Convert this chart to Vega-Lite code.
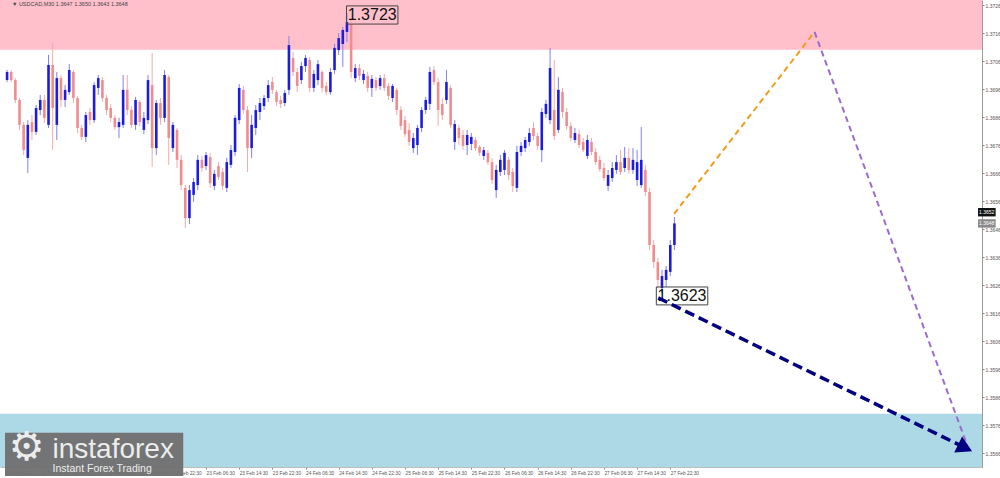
{
  "$schema": "https://vega.github.io/schema/vega-lite/v6.json",
  "width": 982,
  "height": 467,
  "autosize": "none",
  "padding": {"left": 0, "top": 0, "right": 18, "bottom": 11},
  "background": "white",
  "config": {"font": "Liberation Sans", "view": {"stroke": null}, "axis": {"labelOverlap": false, "labelBound": false}},
  "datasets": {
    "candles": [
      {"t":"2024-02-21T06:30","o":1.36992,"h":1.37028,"l":1.36985,"c":1.37021},
      {"t":"2024-02-21T07:30","o":1.37021,"h":1.37028,"l":1.36985,"c":1.36992},
      {"t":"2024-02-21T08:30","o":1.36992,"h":1.36999,"l":1.36910,"c":1.36921},
      {"t":"2024-02-21T09:30","o":1.36921,"h":1.36928,"l":1.36814,"c":1.36832},
      {"t":"2024-02-21T10:30","o":1.36832,"h":1.36842,"l":1.36724,"c":1.36742},
      {"t":"2024-02-21T11:30","o":1.36714,"h":1.36849,"l":1.36660,"c":1.36832},
      {"t":"2024-02-21T12:30","o":1.36842,"h":1.36867,"l":1.36778,"c":1.36807},
      {"t":"2024-02-21T13:30","o":1.36807,"h":1.36903,"l":1.36796,"c":1.36892},
      {"t":"2024-02-21T14:30","o":1.36885,"h":1.36939,"l":1.36867,"c":1.36921},
      {"t":"2024-02-21T15:30","o":1.36921,"h":1.36939,"l":1.36839,"c":1.36857},
      {"t":"2024-02-21T16:30","o":1.36832,"h":1.37082,"l":1.36821,"c":1.37046},
      {"t":"2024-02-21T17:30","o":1.37046,"h":1.37124,"l":1.36742,"c":1.36892},
      {"t":"2024-02-21T18:30","o":1.36832,"h":1.37021,"l":1.36778,"c":1.36999},
      {"t":"2024-02-21T19:30","o":1.36999,"h":1.37010,"l":1.36896,"c":1.36921},
      {"t":"2024-02-21T20:30","o":1.36921,"h":1.36974,"l":1.36896,"c":1.36957},
      {"t":"2024-02-21T21:30","o":1.36949,"h":1.37049,"l":1.36939,"c":1.37028},
      {"t":"2024-02-21T22:30","o":1.37021,"h":1.37028,"l":1.36910,"c":1.36928},
      {"t":"2024-02-21T23:30","o":1.36928,"h":1.36935,"l":1.36803,"c":1.36821},
      {"t":"2024-02-22T00:30","o":1.36821,"h":1.36832,"l":1.36778,"c":1.36789},
      {"t":"2024-02-22T01:30","o":1.36789,"h":1.36878,"l":1.36771,"c":1.36867},
      {"t":"2024-02-22T02:30","o":1.36878,"h":1.36892,"l":1.36832,"c":1.36849},
      {"t":"2024-02-22T03:30","o":1.36849,"h":1.36985,"l":1.36839,"c":1.36974},
      {"t":"2024-02-22T04:30","o":1.36964,"h":1.37010,"l":1.36939,"c":1.36999},
      {"t":"2024-02-22T05:30","o":1.36992,"h":1.37003,"l":1.36914,"c":1.36928},
      {"t":"2024-02-22T06:30","o":1.36928,"h":1.36939,"l":1.36867,"c":1.36885},
      {"t":"2024-02-22T07:30","o":1.36892,"h":1.36907,"l":1.36842,"c":1.36857},
      {"t":"2024-02-22T08:30","o":1.36857,"h":1.36867,"l":1.36814,"c":1.36824},
      {"t":"2024-02-22T09:30","o":1.36824,"h":1.36857,"l":1.36785,"c":1.36842},
      {"t":"2024-02-22T10:30","o":1.36832,"h":1.37010,"l":1.36821,"c":1.36957},
      {"t":"2024-02-22T11:30","o":1.36957,"h":1.37010,"l":1.36867,"c":1.36885},
      {"t":"2024-02-22T12:30","o":1.36885,"h":1.36899,"l":1.36821,"c":1.36832},
      {"t":"2024-02-22T13:30","o":1.36832,"h":1.36932,"l":1.36814,"c":1.36921},
      {"t":"2024-02-22T14:30","o":1.36914,"h":1.36921,"l":1.36828,"c":1.36842},
      {"t":"2024-02-22T15:30","o":1.36814,"h":1.36878,"l":1.36799,"c":1.36857},
      {"t":"2024-02-22T16:30","o":1.36849,"h":1.37010,"l":1.36835,"c":1.36992},
      {"t":"2024-02-22T17:30","o":1.36974,"h":1.37089,"l":1.36682,"c":1.36749},
      {"t":"2024-02-22T18:30","o":1.36749,"h":1.36921,"l":1.36724,"c":1.36910},
      {"t":"2024-02-22T19:30","o":1.36910,"h":1.36928,"l":1.36832,"c":1.36857},
      {"t":"2024-02-22T20:30","o":1.36857,"h":1.37028,"l":1.36842,"c":1.37010},
      {"t":"2024-02-22T21:30","o":1.37003,"h":1.37010,"l":1.36689,"c":1.36785},
      {"t":"2024-02-22T22:30","o":1.36749,"h":1.36842,"l":1.36735,"c":1.36832},
      {"t":"2024-02-22T23:30","o":1.36814,"h":1.36821,"l":1.36678,"c":1.36707},
      {"t":"2024-02-23T00:30","o":1.36707,"h":1.36724,"l":1.36599,"c":1.36617},
      {"t":"2024-02-23T01:30","o":1.36607,"h":1.36617,"l":1.36464,"c":1.36499},
      {"t":"2024-02-23T02:30","o":1.36499,"h":1.36617,"l":1.36478,"c":1.36599},
      {"t":"2024-02-23T03:30","o":1.36582,"h":1.36642,"l":1.36557,"c":1.36628},
      {"t":"2024-02-23T04:30","o":1.36617,"h":1.36724,"l":1.36599,"c":1.36707},
      {"t":"2024-02-23T05:30","o":1.36707,"h":1.36721,"l":1.36664,"c":1.36678},
      {"t":"2024-02-23T06:30","o":1.36685,"h":1.36735,"l":1.36671,"c":1.36724},
      {"t":"2024-02-23T07:30","o":1.36717,"h":1.36732,"l":1.36607,"c":1.36624},
      {"t":"2024-02-23T08:30","o":1.36614,"h":1.36671,"l":1.36599,"c":1.36657},
      {"t":"2024-02-23T09:30","o":1.36685,"h":1.36699,"l":1.36635,"c":1.36646},
      {"t":"2024-02-23T10:30","o":1.36664,"h":1.36678,"l":1.36599,"c":1.36614},
      {"t":"2024-02-23T11:30","o":1.36607,"h":1.36714,"l":1.36592,"c":1.36699},
      {"t":"2024-02-23T12:30","o":1.36689,"h":1.36760,"l":1.36678,"c":1.36742},
      {"t":"2024-02-23T13:30","o":1.36735,"h":1.36867,"l":1.36721,"c":1.36857},
      {"t":"2024-02-23T14:30","o":1.36849,"h":1.36978,"l":1.36835,"c":1.36964},
      {"t":"2024-02-23T15:30","o":1.36957,"h":1.36971,"l":1.36871,"c":1.36885},
      {"t":"2024-02-23T16:30","o":1.36885,"h":1.36899,"l":1.36664,"c":1.36749},
      {"t":"2024-02-23T17:30","o":1.36749,"h":1.36867,"l":1.36714,"c":1.36832},
      {"t":"2024-02-23T18:30","o":1.36821,"h":1.36903,"l":1.36796,"c":1.36885},
      {"t":"2024-02-23T19:30","o":1.36878,"h":1.36928,"l":1.36849,"c":1.36910},
      {"t":"2024-02-23T20:30","o":1.36899,"h":1.36939,"l":1.36885,"c":1.36928},
      {"t":"2024-02-23T21:30","o":1.36928,"h":1.36992,"l":1.36914,"c":1.36974},
      {"t":"2024-02-23T22:30","o":1.36985,"h":1.37003,"l":1.36942,"c":1.36957},
      {"t":"2024-02-23T23:30","o":1.36949,"h":1.36957,"l":1.36899,"c":1.36914},
      {"t":"2024-02-24T00:30","o":1.36921,"h":1.36935,"l":1.36892,"c":1.36907},
      {"t":"2024-02-24T01:30","o":1.36910,"h":1.36957,"l":1.36899,"c":1.36946},
      {"t":"2024-02-24T02:30","o":1.36957,"h":1.37149,"l":1.36939,"c":1.37117},
      {"t":"2024-02-24T03:30","o":1.37071,"h":1.37092,"l":1.37007,"c":1.37021},
      {"t":"2024-02-24T04:30","o":1.37021,"h":1.37035,"l":1.36949,"c":1.36971},
      {"t":"2024-02-24T05:30","o":1.36992,"h":1.37057,"l":1.36978,"c":1.37042},
      {"t":"2024-02-24T06:30","o":1.37042,"h":1.37082,"l":1.37021,"c":1.37071},
      {"t":"2024-02-24T07:30","o":1.37064,"h":1.37074,"l":1.36949,"c":1.36964},
      {"t":"2024-02-24T08:30","o":1.36964,"h":1.37028,"l":1.36949,"c":1.37014},
      {"t":"2024-02-24T09:30","o":1.36992,"h":1.37064,"l":1.36974,"c":1.37049},
      {"t":"2024-02-24T10:30","o":1.37021,"h":1.37028,"l":1.36949,"c":1.36964},
      {"t":"2024-02-24T11:30","o":1.36971,"h":1.36985,"l":1.36939,"c":1.36949},
      {"t":"2024-02-24T12:30","o":1.36949,"h":1.37035,"l":1.36939,"c":1.37021},
      {"t":"2024-02-24T13:30","o":1.37028,"h":1.37121,"l":1.37014,"c":1.37107},
      {"t":"2024-02-24T14:30","o":1.37099,"h":1.37160,"l":1.37082,"c":1.37142},
      {"t":"2024-02-24T15:30","o":1.37121,"h":1.37182,"l":1.37039,"c":1.37171},
      {"t":"2024-02-24T16:30","o":1.37164,"h":1.37230,"l":1.37128,"c":1.37199},
      {"t":"2024-02-24T17:30","o":1.37192,"h":1.37207,"l":1.36999,"c":1.37021},
      {"t":"2024-02-24T18:30","o":1.36999,"h":1.37049,"l":1.36985,"c":1.37035},
      {"t":"2024-02-24T19:30","o":1.37035,"h":1.37049,"l":1.36992,"c":1.37007},
      {"t":"2024-02-24T20:30","o":1.36992,"h":1.37028,"l":1.36978,"c":1.37014},
      {"t":"2024-02-24T21:30","o":1.37007,"h":1.37021,"l":1.36949,"c":1.36964},
      {"t":"2024-02-24T22:30","o":1.36964,"h":1.37010,"l":1.36932,"c":1.36996},
      {"t":"2024-02-24T23:30","o":1.36992,"h":1.37003,"l":1.36953,"c":1.36964},
      {"t":"2024-02-25T00:30","o":1.36971,"h":1.37010,"l":1.36957,"c":1.36999},
      {"t":"2024-02-25T01:30","o":1.36999,"h":1.37014,"l":1.36953,"c":1.36964},
      {"t":"2024-02-25T02:30","o":1.36971,"h":1.36982,"l":1.36921,"c":1.36935},
      {"t":"2024-02-25T03:30","o":1.36928,"h":1.36978,"l":1.36914,"c":1.36971},
      {"t":"2024-02-25T04:30","o":1.36957,"h":1.36964,"l":1.36867,"c":1.36885},
      {"t":"2024-02-25T05:30","o":1.36885,"h":1.36899,"l":1.36814,"c":1.36828},
      {"t":"2024-02-25T06:30","o":1.36849,"h":1.36864,"l":1.36789,"c":1.36799},
      {"t":"2024-02-25T07:30","o":1.36814,"h":1.36839,"l":1.36757,"c":1.36771},
      {"t":"2024-02-25T08:30","o":1.36749,"h":1.36803,"l":1.36732,"c":1.36785},
      {"t":"2024-02-25T09:30","o":1.36760,"h":1.36832,"l":1.36724,"c":1.36821},
      {"t":"2024-02-25T10:30","o":1.36821,"h":1.36896,"l":1.36807,"c":1.36885},
      {"t":"2024-02-25T11:30","o":1.36885,"h":1.36932,"l":1.36871,"c":1.36921},
      {"t":"2024-02-25T12:30","o":1.36907,"h":1.37039,"l":1.36885,"c":1.37021},
      {"t":"2024-02-25T13:30","o":1.37028,"h":1.37042,"l":1.36974,"c":1.36985},
      {"t":"2024-02-25T14:30","o":1.36985,"h":1.36999,"l":1.36828,"c":1.36885},
      {"t":"2024-02-25T15:30","o":1.36907,"h":1.36928,"l":1.36849,"c":1.36867},
      {"t":"2024-02-25T16:30","o":1.36921,"h":1.37028,"l":1.36907,"c":1.36985},
      {"t":"2024-02-25T17:30","o":1.36964,"h":1.36974,"l":1.36821,"c":1.36832},
      {"t":"2024-02-25T18:30","o":1.36771,"h":1.36849,"l":1.36742,"c":1.36835},
      {"t":"2024-02-25T19:30","o":1.36821,"h":1.36832,"l":1.36760,"c":1.36785},
      {"t":"2024-02-25T20:30","o":1.36796,"h":1.36814,"l":1.36742,"c":1.36757},
      {"t":"2024-02-25T21:30","o":1.36760,"h":1.36814,"l":1.36724,"c":1.36796},
      {"t":"2024-02-25T22:30","o":1.36764,"h":1.36803,"l":1.36742,"c":1.36789},
      {"t":"2024-02-25T23:30","o":1.36778,"h":1.36789,"l":1.36739,"c":1.36749},
      {"t":"2024-02-26T00:30","o":1.36753,"h":1.36760,"l":1.36721,"c":1.36732},
      {"t":"2024-02-26T01:30","o":1.36721,"h":1.36753,"l":1.36707,"c":1.36742},
      {"t":"2024-02-26T02:30","o":1.36732,"h":1.36742,"l":1.36689,"c":1.36699},
      {"t":"2024-02-26T03:30","o":1.36699,"h":1.36714,"l":1.36621,"c":1.36635},
      {"t":"2024-02-26T04:30","o":1.36599,"h":1.36689,"l":1.36571,"c":1.36671},
      {"t":"2024-02-26T05:30","o":1.36664,"h":1.36724,"l":1.36649,"c":1.36707},
      {"t":"2024-02-26T06:30","o":1.36671,"h":1.36742,"l":1.36653,"c":1.36732},
      {"t":"2024-02-26T07:30","o":1.36707,"h":1.36717,"l":1.36635,"c":1.36653},
      {"t":"2024-02-26T08:30","o":1.36664,"h":1.36678,"l":1.36592,"c":1.36614},
      {"t":"2024-02-26T09:30","o":1.36607,"h":1.36757,"l":1.36592,"c":1.36735},
      {"t":"2024-02-26T10:30","o":1.36735,"h":1.36771,"l":1.36721,"c":1.36757},
      {"t":"2024-02-26T11:30","o":1.36749,"h":1.36789,"l":1.36735,"c":1.36778},
      {"t":"2024-02-26T12:30","o":1.36771,"h":1.36821,"l":1.36757,"c":1.36803},
      {"t":"2024-02-26T13:30","o":1.36821,"h":1.36842,"l":1.36778,"c":1.36792},
      {"t":"2024-02-26T14:30","o":1.36792,"h":1.36803,"l":1.36742,"c":1.36757},
      {"t":"2024-02-26T15:30","o":1.36742,"h":1.36892,"l":1.36699,"c":1.36878},
      {"t":"2024-02-26T16:30","o":1.36871,"h":1.36921,"l":1.36857,"c":1.36907},
      {"t":"2024-02-26T17:30","o":1.36849,"h":1.37107,"l":1.36835,"c":1.37035},
      {"t":"2024-02-26T18:30","o":1.36885,"h":1.37064,"l":1.36778,"c":1.36792},
      {"t":"2024-02-26T19:30","o":1.36814,"h":1.37003,"l":1.36803,"c":1.36957},
      {"t":"2024-02-26T20:30","o":1.36949,"h":1.36964,"l":1.36857,"c":1.36878},
      {"t":"2024-02-26T21:30","o":1.36878,"h":1.36892,"l":1.36814,"c":1.36828},
      {"t":"2024-02-26T22:30","o":1.36828,"h":1.36842,"l":1.36774,"c":1.36785},
      {"t":"2024-02-26T23:30","o":1.36778,"h":1.36821,"l":1.36767,"c":1.36803},
      {"t":"2024-02-27T00:30","o":1.36799,"h":1.36814,"l":1.36749,"c":1.36760},
      {"t":"2024-02-27T01:30","o":1.36771,"h":1.36785,"l":1.36735,"c":1.36742},
      {"t":"2024-02-27T02:30","o":1.36721,"h":1.36796,"l":1.36710,"c":1.36778},
      {"t":"2024-02-27T03:30","o":1.36771,"h":1.36785,"l":1.36724,"c":1.36735},
      {"t":"2024-02-27T04:30","o":1.36735,"h":1.36749,"l":1.36689,"c":1.36699},
      {"t":"2024-02-27T05:30","o":1.36707,"h":1.36721,"l":1.36664,"c":1.36674},
      {"t":"2024-02-27T06:30","o":1.36678,"h":1.36696,"l":1.36632,"c":1.36642},
      {"t":"2024-02-27T07:30","o":1.36614,"h":1.36671,"l":1.36596,"c":1.36653},
      {"t":"2024-02-27T08:30","o":1.36642,"h":1.36699,"l":1.36628,"c":1.36678},
      {"t":"2024-02-27T09:30","o":1.36671,"h":1.36724,"l":1.36657,"c":1.36699},
      {"t":"2024-02-27T10:30","o":1.36699,"h":1.36742,"l":1.36653,"c":1.36664},
      {"t":"2024-02-27T11:30","o":1.36678,"h":1.36753,"l":1.36664,"c":1.36714},
      {"t":"2024-02-27T12:30","o":1.36714,"h":1.36749,"l":1.36657,"c":1.36671},
      {"t":"2024-02-27T13:30","o":1.36671,"h":1.36749,"l":1.36657,"c":1.36707},
      {"t":"2024-02-27T14:30","o":1.36635,"h":1.36742,"l":1.36614,"c":1.36699},
      {"t":"2024-02-27T15:30","o":1.36617,"h":1.36824,"l":1.36607,"c":1.36707},
      {"t":"2024-02-27T16:30","o":1.36671,"h":1.36689,"l":1.36578,"c":1.36592},
      {"t":"2024-02-27T17:30","o":1.36592,"h":1.36607,"l":1.36385,"c":1.36403},
      {"t":"2024-02-27T18:30","o":1.36403,"h":1.36421,"l":1.36321,"c":1.36342},
      {"t":"2024-02-27T19:30","o":1.36342,"h":1.36357,"l":1.36249,"c":1.36278},
      {"t":"2024-02-27T20:30","o":1.36249,"h":1.36314,"l":1.36230,"c":1.36292},
      {"t":"2024-02-27T21:30","o":1.36278,"h":1.36328,"l":1.36253,"c":1.36314},
      {"t":"2024-02-27T22:30","o":1.36307,"h":1.36421,"l":1.36292,"c":1.36403},
      {"t":"2024-02-27T23:30","o":1.36403,"h":1.36503,"l":1.36385,"c":1.36480}
    ],
    "zones": [
      {"zone": "resistance", "p1": 1.3710, "p2": 1.37278},
      {"zone": "support", "p1": 1.35610, "p2": 1.3580}
    ],
    "orange": [
      {"t": "2024-02-27T23:25", "p": 1.36514},
      {"t": "2024-02-29T09:18", "p": 1.37164}
    ],
    "purple": [
      {"t": "2024-02-29T09:18", "p": 1.37164},
      {"t": "2024-03-01T22:06", "p": 1.35689}
    ],
    "navy": [
      {"t": "2024-02-27T19:36", "p": 1.36214},
      {"t": "2024-03-01T21:12", "p": 1.35682}
    ],
    "arrow": [
      {"t": "2024-03-01T21:38", "p": 1.35678}
    ],
    "boxes": [
      {"t1": "2024-02-24T16:23", "t2": "2024-02-25T04:48", "p1": 1.37257, "p2": 1.37192, "tc": "2024-02-24T22:36", "pc": 1.37224, "label": "1.3723"},
      {"t1": "2024-02-27T19:08", "t2": "2024-02-28T07:33", "p1": 1.36253, "p2": 1.36189, "tc": "2024-02-28T01:20", "pc": 1.36221, "label": "1.3623"}
    ],
    "pricetags": [
      {"t1": "2024-03-02T00:45", "t2": "2024-03-02T05:00", "p1": 1.36535, "p2": 1.36505, "tc": "2024-03-02T02:50", "pc": 1.3652, "label": "1.3652", "kind": "bid"},
      {"t1": "2024-03-02T00:45", "t2": "2024-03-02T05:00", "p1": 1.36495, "p2": 1.36465, "tc": "2024-03-02T02:50", "pc": 1.3648, "label": "1.3648", "kind": "last"}
    ],
    "logo": [
      {"t1": "2024-02-21T06:00", "t2": "2024-02-23T01:00", "p1": 1.35732, "p2": 1.35578}
    ],
    "logotext": [
      {"t": "2024-02-21T17:28", "p": 1.35642, "label": "instaforex", "size": 28},
      {"t": "2024-02-21T17:28", "p": 1.35592, "label": "Instant Forex Trading", "size": 10.5}
    ],
    "gear": [
      {"t": "2024-02-21T11:15", "p": 1.35678, "label": "⚙"}
    ],
    "header": [
      {"t": "2024-02-21T07:40", "p": 1.37262, "label": "▼  USDCAD,M30  1.3647 1.3650 1.3643 1.3648"}
    ]
  },
  "layer": [
    {
      "data": {"name": "zones"},
      "mark": {"type": "rect"},
      "encoding": {
        "y": {"field": "p1", "type": "quantitative", "title": null,
              "scale": {"domain": [1.35610, 1.37278], "nice": false, "zero": false},
              "axis": {"orient": "right", "values": [1.3566,1.3576,1.3586,1.3596,1.3606,1.3616,1.3626,1.3636,1.3646,1.3656,1.3666,1.3676,1.3686,1.3696,1.3706,1.3716,1.3726],
                       "tickCount": 30,
                       "format": ".4f", "labelFontSize": 5, "labelColor": "#555", "tickSize": 2, "tickColor": "#888",
                       "domainColor": "#9a9a9a", "labelPadding": 1, "grid": false, "labelOverlap": false, "labelFlush": false, "labelBound": false}},
        "y2": {"field": "p2"},
        "color": {"field": "zone", "type": "nominal", "legend": null,
                  "scale": {"domain": ["resistance", "support"], "range": ["#ffc0cb", "#add8e6"]}}
      }
    },
    {
      "data": {"name": "candles"},
      "mark": {"type": "rule", "strokeWidth": 1},
      "encoding": {
        "x": {"field": "t", "type": "temporal", "title": null,
              "scale": {"domain": [{"year": 2024, "month": 2, "date": 21, "hours": 6, "minutes": 0}, {"year": 2024, "month": 3, "date": 2, "hours": 0, "minutes": 30}], "nice": false},
              "axis": {"values": [
                  {"year":2024,"month":2,"date":21,"hours":6,"minutes":0},
                  {"year":2024,"month":2,"date":21,"hours":14,"minutes":30},
                  {"year":2024,"month":2,"date":21,"hours":22,"minutes":30},
                  {"year":2024,"month":2,"date":22,"hours":6,"minutes":30},
                  {"year":2024,"month":2,"date":22,"hours":14,"minutes":30},
                  {"year":2024,"month":2,"date":22,"hours":22,"minutes":30},
                  {"year":2024,"month":2,"date":23,"hours":6,"minutes":30},
                  {"year":2024,"month":2,"date":23,"hours":14,"minutes":30},
                  {"year":2024,"month":2,"date":23,"hours":22,"minutes":30},
                  {"year":2024,"month":2,"date":24,"hours":6,"minutes":30},
                  {"year":2024,"month":2,"date":24,"hours":14,"minutes":30},
                  {"year":2024,"month":2,"date":24,"hours":22,"minutes":30},
                  {"year":2024,"month":2,"date":25,"hours":6,"minutes":30},
                  {"year":2024,"month":2,"date":25,"hours":14,"minutes":30},
                  {"year":2024,"month":2,"date":25,"hours":22,"minutes":30},
                  {"year":2024,"month":2,"date":26,"hours":6,"minutes":30},
                  {"year":2024,"month":2,"date":26,"hours":14,"minutes":30},
                  {"year":2024,"month":2,"date":26,"hours":22,"minutes":30},
                  {"year":2024,"month":2,"date":27,"hours":6,"minutes":30},
                  {"year":2024,"month":2,"date":27,"hours":14,"minutes":30},
                  {"year":2024,"month":2,"date":27,"hours":22,"minutes":30}],
                "tickCount": 40,
                "labelExpr": "datum.value < time(datetime(2024,1,21,12,0)) ? '21 Feb 2024' : timeFormat(datum.value, '%d %b %H:%M')",
                "labelAlign": "left", "labelFontSize": 4.8, "labelColor": "#555", "tickSize": 2, "tickColor": "#888",
                "domainColor": "#bdbdbd", "labelPadding": 1, "grid": false, "labelOverlap": false, "labelFlush": false, "labelBound": false}},
        "y": {"field": "l", "type": "quantitative", "title": null},
        "y2": {"field": "h"},
        "color": {"condition": {"test": "datum.c >= datum.o", "value": "#8080ee"}, "value": "#f3aaaa"}
      }
    },
    {
      "data": {"name": "candles"},
      "mark": {"type": "bar", "size": 2.6},
      "encoding": {
        "x": {"field": "t", "type": "temporal", "title": null},
        "y": {"field": "o", "type": "quantitative", "title": null},
        "y2": {"field": "c"},
        "color": {"condition": {"test": "datum.c >= datum.o", "value": "#1c1ce0"}, "value": "#f08c8c"}
      }
    },
    {
      "data": {"name": "boxes"},
      "mark": {"type": "rect", "fill": "white", "fillOpacity": 0, "stroke": "#444", "strokeWidth": 1},
      "encoding": {
        "x": {"field": "t1", "type": "temporal", "title": null},
        "x2": {"field": "t2"},
        "y": {"field": "p1", "type": "quantitative", "title": null},
        "y2": {"field": "p2"}
      }
    },
    {
      "data": {"name": "boxes"},
      "mark": {"type": "text", "fontSize": 16, "color": "#111", "align": "center", "baseline": "middle"},
      "encoding": {
        "x": {"field": "tc", "type": "temporal", "title": null},
        "y": {"field": "pc", "type": "quantitative", "title": null},
        "text": {"field": "label"}
      }
    },
    {
      "data": {"name": "orange"},
      "mark": {"type": "line", "color": "#f39a1c", "strokeWidth": 2, "strokeDash": [6, 4]},
      "encoding": {
        "x": {"field": "t", "type": "temporal", "title": null},
        "y": {"field": "p", "type": "quantitative", "title": null}
      }
    },
    {
      "data": {"name": "purple"},
      "mark": {"type": "line", "color": "#9b6bd0", "strokeWidth": 2, "strokeDash": [6, 4]},
      "encoding": {
        "x": {"field": "t", "type": "temporal", "title": null},
        "y": {"field": "p", "type": "quantitative", "title": null}
      }
    },
    {
      "data": {"name": "navy"},
      "mark": {"type": "line", "color": "#000080", "strokeWidth": 3.5, "strokeDash": [10, 5]},
      "encoding": {
        "x": {"field": "t", "type": "temporal", "title": null},
        "y": {"field": "p", "type": "quantitative", "title": null}
      }
    },
    {
      "data": {"name": "arrow"},
      "mark": {"type": "point", "shape": "triangle-right", "filled": true, "color": "#000080", "size": 320, "angle": 26, "opacity": 1},
      "encoding": {
        "x": {"field": "t", "type": "temporal", "title": null},
        "y": {"field": "p", "type": "quantitative", "title": null}
      }
    },
    {
      "data": {"name": "logo"},
      "mark": {"type": "rect", "color": "#6f6f6f", "opacity": 0.95},
      "encoding": {
        "x": {"field": "t1", "type": "temporal", "title": null},
        "x2": {"field": "t2"},
        "y": {"field": "p1", "type": "quantitative", "title": null},
        "y2": {"field": "p2"}
      }
    },
    {
      "data": {"name": "logotext"},
      "mark": {"type": "text", "color": "#ececec", "align": "left", "baseline": "alphabetic"},
      "encoding": {
        "x": {"field": "t", "type": "temporal", "title": null},
        "y": {"field": "p", "type": "quantitative", "title": null},
        "text": {"field": "label"},
        "size": {"field": "size", "type": "quantitative", "scale": null, "legend": null}
      }
    },
    {
      "data": {"name": "gear"},
      "mark": {"type": "text", "color": "#ececec", "align": "center", "baseline": "middle", "fontSize": 40, "font": "DejaVu Sans"},
      "encoding": {
        "x": {"field": "t", "type": "temporal", "title": null},
        "y": {"field": "p", "type": "quantitative", "title": null},
        "text": {"field": "label"}
      }
    },
    {
      "data": {"name": "header"},
      "mark": {"type": "text", "color": "#444", "align": "left", "baseline": "middle", "fontSize": 5.5},
      "encoding": {
        "x": {"field": "t", "type": "temporal", "title": null},
        "y": {"field": "p", "type": "quantitative", "title": null},
        "text": {"field": "label"}
      }
    },
    {
      "data": {"name": "pricetags"},
      "mark": {"type": "rect"},
      "encoding": {
        "x": {"field": "t1", "type": "temporal", "title": null},
        "x2": {"field": "t2"},
        "y": {"field": "p1", "type": "quantitative", "title": null},
        "y2": {"field": "p2"},
        "color": {"condition": {"test": "datum.kind == 'bid'", "value": "#111"}, "value": "#8a8a8a"}
      }
    },
    {
      "data": {"name": "pricetags"},
      "mark": {"type": "text", "color": "white", "align": "center", "baseline": "middle", "fontSize": 5},
      "encoding": {
        "x": {"field": "tc", "type": "temporal", "title": null},
        "y": {"field": "pc", "type": "quantitative", "title": null},
        "text": {"field": "label"}
      }
    }
  ]
}
